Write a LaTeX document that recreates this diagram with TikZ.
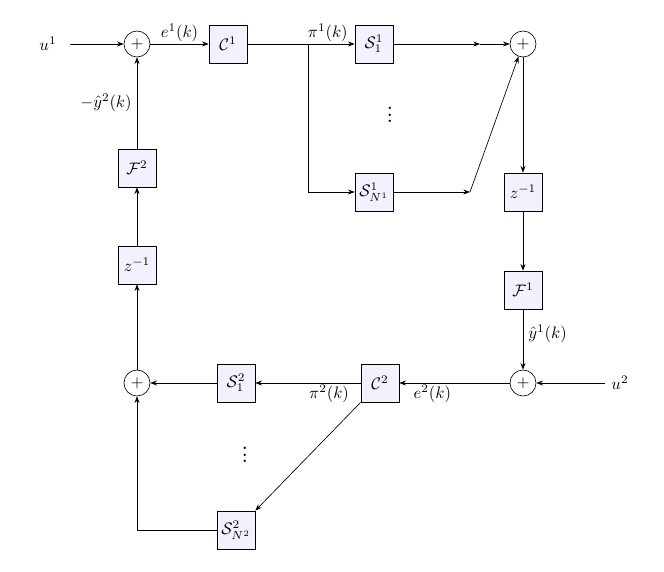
\documentclass[tikz,border=0pt]{standalone}
\usetikzlibrary{arrows.meta}
\begin{document}
\begin{tikzpicture}[x=0.6pt,y=-0.6pt,>={Stealth[length=4pt,width=3pt]},
 blk/.style={draw,fill=blue!5,minimum width=22.8pt,minimum height=22.8pt,inner sep=0pt},
 sumn/.style={draw,circle,minimum size=15.6pt,inner sep=0pt},
 lab/.style={inner sep=1pt}]
\useasboundingbox (0,0) rectangle (664,572);
\node (u1) at (48,44) {$u^1$};
\node[sumn] (s1) at (137,44) {$+$};
\node[blk] (c1) at (228,44) {$\mathcal{C}^1$};
\node[blk] (S11) at (374,44) {$\mathcal{S}^1_1$};
\node[blk] (S1N) at (374,192) {$\mathcal{S}^1_{N^1}$};
\node at (390,110) {\Large$\vdots$};
\node[sumn] (s2) at (523,44) {$+$};
\node[blk] (z1) at (523,192) {$z^{-1}$};
\node[blk] (f1) at (523,290) {$\mathcal{F}^1$};
\node[sumn] (s3) at (523,383) {$+$};
\node (u2) at (620,383) {$u^2$};
\node[blk] (c2) at (380,383) {$\mathcal{C}^2$};
\node[blk] (S21) at (236,383) {$\mathcal{S}^2_1$};
\node[blk] (S2N) at (236,530) {$\mathcal{S}^2_{N^2}$};
\node at (245,450) {\Large$\vdots$};
\node[sumn] (s4) at (137,383) {$+$};
\node[blk] (z2) at (137,265) {$z^{-1}$};
\node[blk] (f2) at (137,168) {$\mathcal{F}^2$};
\coordinate (a1) at (70,44);
\coordinate (a2) at (605,383);
\coordinate (b1) at (308,44);
\coordinate (m1) at (480,44);
\coordinate (m2) at (470,192);
\draw[->] (a1) -- (s1);
\draw[->] (s1) -- node[above,lab]{$e^1(k)$} (c1);
\draw[->] (c1) -- node[above,lab,pos=0.75]{$\pi^1(k)$} (S11);
\draw[->] (b1) |- (S1N);
\draw[->] (S11) -- (m1);
\draw[->] (m1) -- (s2);
\draw[->] (S1N) -- (m2);
\draw[->] (m2) -- (s2);
\draw[->] (s2) -- (z1);
\draw[->] (z1) -- (f1);
\draw[->] (f1) -- node[right,lab,xshift=2pt,pos=0.4]{$\hat{y}^1(k)$} (s3);
\draw[->] (a2) -- (s3);
\draw[->] (s3) -- node[below,lab,pos=0.7]{$e^2(k)$} (c2);
\draw[->] (c2) -- node[below,lab,pos=0.3]{$\pi^2(k)$} (S21);
\draw[->] (S21) -- (s4);
\draw[->] (c2.south west) -- (S2N.north east);
\draw[->] (S2N) -| (s4);
\draw[->] (s4) -- (z2);
\draw[->] (z2) -- (f2);
\draw[->] (f2) -- node[left,lab,xshift=-2pt]{$-\hat{y}^2(k)$} (s1);
\end{tikzpicture}
\end{document}
